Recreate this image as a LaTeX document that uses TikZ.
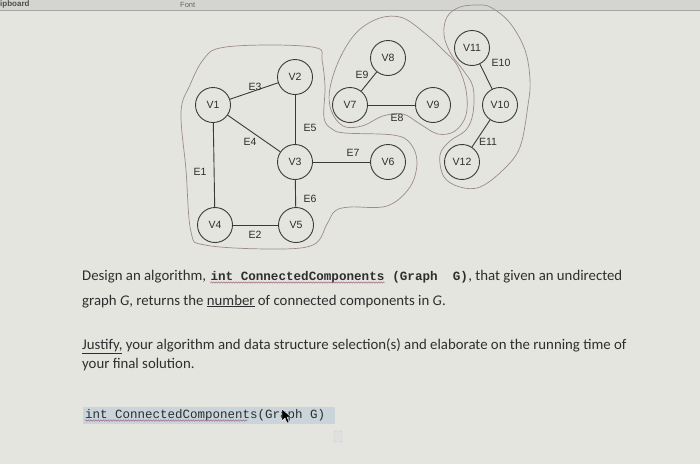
\documentclass[tikz,border=0pt]{standalone}
\usepackage{fontspec}
\setmainfont{Carlito}
\newfontfamily\codefont{Liberation Mono}
\newfontfamily\lblfont{Liberation Sans}
\usetikzlibrary{decorations.pathmorphing}
\definecolor{bg}{HTML}{E4E5DF}
\definecolor{barc}{HTML}{D4D5D1}
\definecolor{vline}{HTML}{3A3A3A}
\definecolor{txt}{HTML}{2E2E2E}
\definecolor{hullc}{HTML}{9C8A8E}
\definecolor{spell}{HTML}{A06A8A}
\definecolor{selc}{HTML}{C9D5DA}
\begin{document}
\begin{tikzpicture}[x=1pt,y=-1pt,
  vtx/.style={circle,draw=vline,line width=0.9pt,minimum size=35pt,inner sep=0pt,
    font=\lblfont\fontsize{10.5}{12}\selectfont,text=txt},
  edge/.style={draw=vline,line width=0.9pt},
  elbl/.style={inner sep=0pt,font=\lblfont\fontsize{10.5}{12}\selectfont,text=txt},
  hull/.style={draw=hullc,line width=0.7pt},
  para/.style={inner sep=0pt,anchor=base west,text=txt,font=\fontsize{14.8}{17}\selectfont},
  code/.style={inner sep=0pt,anchor=base west,text=txt,font=\codefont\bfseries\fontsize{12.6}{15}\selectfont},
  wavy/.style={draw=spell,line width=0.5pt,decorate,decoration={snake,amplitude=0.7pt,segment length=2.5pt}}]
\useasboundingbox (0,0) rectangle (700,464);
\fill[bg] (0,0) rectangle (700,464);
\fill[barc] (0,0) rectangle (700,10);
\draw[gray!70,line width=0.4pt] (0,10) -- (700,10);
\node[inner sep=0pt,anchor=west,text=black!70,font=\lblfont\bfseries\fontsize{8}{9}\selectfont] (bar1) at (0,4.5) {ipboard};
\node[inner sep=0pt,anchor=west,text=black!60,font=\lblfont\fontsize{7.5}{9}\selectfont] (bar2) at (180,4.5) {Font};

% hulls
\draw[hull] plot[smooth cycle,tension=0.6] coordinates {(220,48) (270,45) (317,48) (322,60) (325,87) (324,118) (332,129) (345,133) (393,135) (410,143) (417,162) (410,187) (387,206) (350,207) (335,211) (327,224) (313,245) (270,249) (205,245) (191,232) (186,170) (181,112) (190,85) (203,60)};
\draw[hull] plot[smooth cycle,tension=0.6] coordinates {(331,110) (330,88) (340,58) (357,32) (380,18) (403,18) (427,35) (442,49) (457,65) (466,90) (466,115) (455,131) (438,134) (420,124) (403,114) (383,116) (362,126) (343,126)};
\draw[hull] plot[smooth cycle,tension=0.6] coordinates {(447,17) (460,7) (480,5) (492,8) (510,23) (525,50) (530,80) (528,105) (520,147) (503,170) (480,187) (460,187) (444,177) (440,155) (450,141) (466,130) (473,113) (473,87) (463,70) (451,54) (444,35)};

% vertices
\node[vtx] (v1) at (213,105) {V1};
\node[vtx] (v2) at (295,77) {V2};
\node[vtx] (v3) at (295,162) {V3};
\node[vtx] (v4) at (215,225) {V4};
\node[vtx] (v5) at (296,225) {V5};
\node[vtx] (v6) at (388,162) {V6};
\node[vtx] (v7) at (350,105) {V7};
\node[vtx] (v8) at (388,58) {V8};
\node[vtx] (v9) at (433,105) {V9};
\node[vtx] (v10) at (500,105) {V10};
\node[vtx] (v11) at (472,48) {V11};
\node[vtx] (v12) at (462,162) {V12};

% edges
\draw[edge] (v1) -- (v4);
\draw[edge] (v4) -- (v5);
\draw[edge] (v1) -- (v2);
\draw[edge] (v1) -- (v3);
\draw[edge] (v2) -- (v3);
\draw[edge] (v3) -- (v5);
\draw[edge] (v3) -- (v6);
\draw[edge] (v7) -- (v9);
\draw[edge] (v7) -- (v8);
\draw[edge] (v11) -- (v10);
\draw[edge] (v10) -- (v12);

% edge labels
\node[elbl] (e1) at (200,172) {E1};
\node[elbl] (e2) at (255,235) {E2};
\node[elbl] (e3) at (255,87) {E3};
\node[elbl] (e4) at (250,142) {E4};
\node[elbl] (e5) at (310,128) {E5};
\node[elbl] (e6) at (310,199) {E6};
\node[elbl] (e7) at (353,153) {E7};
\node[elbl] (e8) at (397,118) {E8};
\node[elbl] (e9) at (362,75) {E9};
\node[elbl] (e10) at (501,63) {E10};
\node[elbl] (e11) at (488,142) {E11};

% paragraph
\node[para] (l1a) at (82,280) {Design an algorithm,};
\node[code] (l1b) at ([xshift=4pt]l1a.base east) {int ConnectedComponents};
\node[code] (l1c) at ([xshift=7.5pt]l1b.base east) {(Graph\ \ G)};
\node[para] (l1d) at (l1c.base east) {,\ that given an undirected};
\draw[wavy] ([yshift=-2.5pt]l1b.base west) -- ([yshift=-2.5pt]l1b.base east);
\node[para] (l2) at (82,305) {graph \textit{G}, returns the \underline{number} of connected components in \textit{G}.};
\node[para] (l3) at (82,349) {\underline{Justify,} your algorithm and data structure selection(s) and elaborate on the running time of};
\node[para] (l4) at (82,368) {your final solution.};

% code line
\fill[selc] (83,407) rectangle (335,424);
\node[inner sep=0pt,anchor=base west,text=txt,font=\codefont\fontsize{12.5}{14}\selectfont] (cl) at (85,418) {int ConnectedComponents(Graph G)};
\draw[wavy] ([yshift=-2.5pt]cl.base west) -- ([xshift=-78pt,yshift=-2.5pt]cl.base east);
\draw[fill=black,draw=white,line width=0.4pt] (282,409) -- (282,421) -- (285,418) -- (287,423) -- (289,422) -- (287,417) -- (291,417) -- cycle;
\draw[fill=black!12,draw=black!20,rounded corners=1pt] (334,431) rectangle (342,442);
\end{tikzpicture}
\end{document}
